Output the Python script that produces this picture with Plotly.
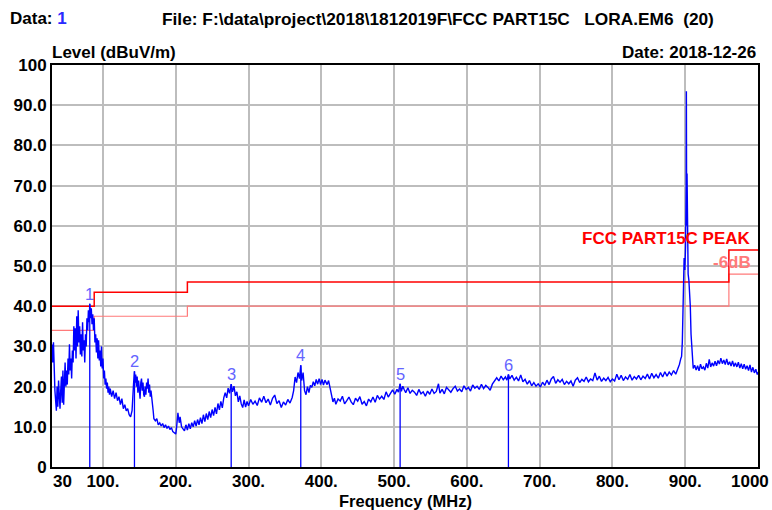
import plotly.graph_objects as go

# ---------------------------------------------------------------------------
# Radiated emission sweep, 30 MHz - 1 GHz (peak detector), level in dBuV/m
# ---------------------------------------------------------------------------
freq_mhz = [
    30, 31, 32, 33, 34, 35, 36, 37, 38, 39, 40, 41, 42, 43, 44, 45, 46, 47, 48, 49,
    50, 51, 52, 53, 54, 55, 56, 57, 58, 59, 60, 61, 62, 63, 64, 65, 66, 67, 68, 69,
    70, 71, 72, 73, 74, 75, 76, 77, 78, 79, 80, 81, 81.9, 83, 84, 85, 86, 87, 88, 89,
    90, 91, 92, 93, 94, 95, 96, 97, 98, 99, 100, 101, 102, 103, 104, 105, 106, 107, 108, 109,
    110, 112, 114, 116, 118, 120, 122, 124, 126, 128, 130, 132, 134, 136, 138, 140, 141, 142, 143.3, 144,
    145, 146, 147, 148, 149, 150, 151, 152, 153, 154, 155, 156, 157, 158, 159, 160, 161, 162, 163, 164,
    165, 166, 167, 168, 169, 170, 172, 174, 176, 178, 180, 182, 184, 186, 188, 190, 192, 194, 196, 198,
    200, 201, 202, 203, 204, 205, 206, 208, 210, 212, 214, 216, 218, 220, 222, 224, 226, 228, 230, 232,
    234, 236, 238, 240, 242, 244, 246, 248, 250, 252, 254, 256, 258, 260, 262, 264, 266, 268, 270, 272,
    274, 276.2, 278, 280, 282, 284, 286, 288, 290, 292, 294, 296, 298, 300, 303, 306, 309, 312, 315, 318,
    321, 324, 327, 330, 333, 336, 339, 342, 345, 348, 351, 354, 357, 360, 362, 364, 366, 368, 370, 371.8,
    373, 375, 377, 379, 381, 383, 385, 387, 389, 391, 393, 395, 397, 399, 401, 403, 405, 408, 410, 412,
    414, 416, 418, 420, 423, 426, 429, 432, 435, 438, 441, 444, 447, 450, 453, 456, 459, 462, 465, 468,
    471, 474, 477, 480, 483, 486, 489, 492, 495, 498, 501, 504, 506, 508.3, 510, 512, 514, 516, 519, 522,
    525, 528, 531, 534, 537, 540, 543, 546, 549, 552, 555, 558, 561, 563, 566, 569, 572, 575, 578, 581,
    584, 587, 590, 593, 596, 599, 602, 605, 608, 611, 614, 617, 620, 623, 626, 629, 632, 635, 638, 641,
    644, 647, 650, 653, 655, 657.1, 659, 662, 665, 668, 671, 674, 677, 680, 683, 686, 689, 692, 695, 698,
    701, 704, 707, 710, 713, 716, 719, 722, 725, 728, 731, 734, 737, 740, 743, 746, 749, 752, 755, 758,
    761, 764, 767, 770, 773, 776, 779, 782, 785, 788, 791, 794, 797, 800, 803, 806, 809, 812, 815, 818,
    821, 824, 827, 830, 833, 836, 839, 842, 845, 848, 851, 854, 857, 860, 863, 866, 869, 872, 875, 878,
    881, 884, 887, 890, 892, 894, 895, 896, 897, 897.8, 898.5, 899.5, 900.5, 901.3, 901.6, 902.0, 902.5, 903, 904, 905,
    906, 907, 908, 909, 910, 911, 913, 915, 917, 919, 921, 923, 925, 927, 929, 931, 933, 935, 937, 939,
    941, 943, 945, 947, 949, 951, 953, 955, 957, 959, 961, 963, 965, 967, 969, 971, 973, 975, 977, 979,
    981, 983, 985, 987, 989, 991, 993, 995, 997, 999, 1000,
]
level_dbuv = [
    30.5, 26, 31, 22, 19, 16.5, 14, 20, 15, 21.5, 17, 14.5, 19, 22.5, 16, 24, 15.5, 21, 26, 20,
    24, 20.5, 27, 23, 30.5, 24, 27, 22, 29, 26, 35, 29, 34.5, 27, 37.5, 30, 39, 31, 35, 28,
    33, 27.5, 36, 29, 31.5, 26, 33, 30, 37, 34, 39, 36, 40.6, 37, 39.5, 35.5, 38, 34, 37, 31,
    33, 28.5, 32, 27, 31.5, 26.5, 29, 25, 30, 24.5, 27, 22, 24, 20.5, 22, 19.5, 21, 18.5, 20, 18,
    19.5, 17.5, 19, 17, 18.5, 16.5, 17.5, 15.5, 17, 14.5, 15.5, 14, 14.5, 13, 12.5, 14, 19, 20.5, 23.8, 21,
    23, 20, 22.5, 18.5, 21.5, 18, 17, 21, 22, 19, 21, 18, 17.5, 20, 18, 21, 19.5, 22, 18.5, 20.5,
    17.5, 19, 16.5, 15, 14, 12, 11.5, 12, 10.5, 11, 10.2, 10.8, 9.8, 10.5, 9.6, 10.2, 9.3, 9.8, 8.8, 8.5,
    8.2, 9.5, 11.5, 13.5, 12, 11, 12.5, 10, 9.5, 9, 10.5, 9.2, 10.8, 9.5, 11, 10, 11.5, 10.2, 11.8, 10.5,
    12.3, 10.8, 13, 11.3, 13.3, 11.8, 13.8, 12.3, 14.3, 12.8, 14.8, 13.2, 15.8, 14.2, 16.3, 14.7, 17.2, 18.5, 17.2, 19.6,
    18.3, 20.6, 18.7, 20.1, 17.7, 18.7, 16.2, 17.7, 15.7, 14.8, 16.7, 14.9, 16.3, 15.2, 16.8, 15.6, 16.4, 15.3, 17.2, 16.1,
    17.6, 16, 16.9, 15.4, 17.1, 17.9, 15.8, 16.5, 14.8, 16.2, 15.4, 16.8, 15.9, 17.3, 19, 22.4, 21, 23.5, 22, 25.3,
    21.5, 23.5, 19, 18, 20, 18.5, 20.3, 19.8, 21.2, 20.2, 21.8, 20.6, 22, 20.5, 21.8, 20.4, 21.6, 20.5, 21.5, 19.8,
    18, 16.2, 17.1, 15.6, 16.9, 16.4, 17.6, 15.7, 16.5, 17.4, 16.2, 15.5, 17.1, 16.4, 17.5, 15.6, 16.3, 15.2, 16.9, 16.2,
    17.4, 16.1, 17.8, 16.9, 17.6, 16.8, 18.7, 17.4, 18.3, 19.2, 18.1, 19.3, 18.6, 20.7, 18.8, 20.1, 19.2, 18.5, 19.7, 18.3,
    19.1, 18.6, 17.8, 19.3, 18.2, 18.7, 17.6, 18.9, 18.1, 19.4, 18.3, 18.8, 20.7, 18.4, 19.3, 18.2, 19.8, 19.1, 18.6, 19.5,
    20.1, 18.9, 19.4, 18.7, 20.2, 19.3, 19.8, 18.9, 20.4, 19.6, 20.1, 19.3, 20.6, 19.5, 20.3, 19.8, 19.1, 20.6, 21.3, 22.2,
    21.4, 22.6, 21.7, 22.4, 21.6, 23, 21.9, 22.8, 21.6, 22.3, 21.4, 22.9, 21.2, 21.8, 20.6, 21.5, 20.2, 21, 20.1, 20.7,
    19.9, 21.1, 20.3, 21.6, 20.5, 21.9, 22.5, 20.8, 21.7, 21.1, 21.8, 20.5, 21.3, 20.7, 21.4, 20.1, 21.6, 22.2, 21, 21.8,
    21.3, 22.4, 21.2, 21.9, 21.5, 23.4, 21.6, 22.6, 21.3, 22.1, 21.5, 22.3, 21.2, 21.9, 21.4, 23.1, 21.7, 22.8, 21.5, 22.4,
    21.8, 23, 21.6, 22.5, 21.9, 22.8, 21.7, 22.6, 22, 23.1, 21.9, 23.3, 22.2, 23, 22.1, 23.5, 22.4, 23.7, 22.6, 23.6,
    22.9, 24, 23.1, 24.4, 25.5, 27, 27.5, 31, 38, 48, 52, 49, 55, 70, 93.5, 60, 73, 54, 48, 46.5,
    44, 40, 33, 30, 27, 24.5, 25.3, 24.1, 25.2, 23.9, 25.6, 24.4, 24.9, 24.1, 25.8, 24.6, 26.8, 24.9, 25.9, 25.1,
    26.3, 25.2, 26.5, 25.6, 27.1, 25.7, 26.6, 25.5, 26.9, 25.4, 26.2, 25.1, 26.4, 25, 25.9, 24.9, 26.1, 24.6, 25.7, 24.4,
    25.6, 24.3, 25.2, 24, 25.4, 23.6, 24.8, 23.4, 24.3, 23, 23.6,
]

# FCC Part 15C peak limit and the -6 dB margin line
limit_freq = [30, 88, 88, 216, 216, 960, 960, 1000]
limit_peak = [40, 40, 43.5, 43.5, 46, 46, 54, 54]
limit_margin = [34, 34, 37.5, 37.5, 40, 40, 48, 48]

# Marked peaks
marker_no = ["1", "2", "3", "4", "5", "6"]
marker_freq = [81.9, 143.3, 276.2, 371.8, 508.3, 657.1]
marker_level = [40.6, 23.8, 20.6, 25.3, 20.7, 23.0]

# Axis ticks
x_tick_vals = [30, 100, 200, 300, 400, 500, 600, 700, 800, 900, 1000]
x_tick_text = ["30", "100.", "200.", "300.", "400.", "500.", "600.", "700.", "800.", "900.", "1000"]
y_tick_vals = [0, 10, 20, 30, 40, 50, 60, 70, 80, 90, 100]
y_tick_text = ["0", "10.0", "20.0", "30.0", "40.0", "50.0", "60.0", "70.0", "80.0", "90.0", "100"]

W, H = 772, 510
ML, MR, MT, MB = 52, 14, 65, 43
PW, PH = W - ML - MR, H - MT - MB


def paper_x(px):
    return (px - ML) / PW


def paper_y(py):
    return (H - MB - py) / PH


FONT = "Liberation Sans, Arial, sans-serif"
BLUE = "#0000ff"
RED = "#ff0000"
PINK = "#ff7a7a"

fig = go.Figure()

# limit lines
fig.add_trace(go.Scatter(x=limit_freq, y=limit_margin, mode="lines",
                         line=dict(color=PINK, width=1.2), hoverinfo="skip"))
fig.add_trace(go.Scatter(x=limit_freq, y=limit_peak, mode="lines",
                         line=dict(color=RED, width=1.5), hoverinfo="skip"))

# marker drop lines
for f, lv in zip(marker_freq, marker_level):
    fig.add_trace(go.Scatter(x=[f, f], y=[0, lv], mode="lines",
                             line=dict(color=BLUE, width=1.3), hoverinfo="skip"))

# spectrum
fig.add_trace(go.Scatter(x=freq_mhz, y=level_dbuv, mode="lines",
                         line=dict(color=BLUE, width=1.4)))

# marker numbers
for n, f, lv in zip(marker_no, marker_freq, marker_level):
    fig.add_annotation(x=f, y=lv, text=n, showarrow=False, yshift=10,
                       font=dict(family=FONT, size=16.5, color="#6464ff"))

bold = dict(family=FONT, size=17, color="black", weight="bold")


def label(text, px, py, xanchor="left", color="black", size=17):
    fig.add_annotation(xref="paper", yref="paper", x=paper_x(px), y=paper_y(py),
                       text=text, showarrow=False, xanchor=xanchor, yanchor="middle",
                       font=dict(family=FONT, size=size, color=color, weight="bold"))


# the outer x labels sit inside the plot corners, so they are placed by hand
x_labels = [""] + x_tick_text[1:-1] + [""]
label(x_tick_text[0], 51, 481)
label(x_tick_text[-1], 771, 481, xanchor="right")

NBSP = "\u00a0"
label("Data: <span style='color:#2a2aff'>1</span>", 8, 19)
label("File: F:\\data\\project\\2018\\1812019F\\FCC PART15C" + NBSP * 3 + "LORA.EM6" + NBSP * 2 + "(20)",
      160, 19, size=17.3)
label("Level (dBuV/m)", 50, 53)
label("Date: 2018-12-26", 758, 52, xanchor="right")
label("Frequency (MHz)", 405, 501, xanchor="center", size=16.5)
label("FCC PART15C PEAK", 753, 238, xanchor="right", color=RED)
label("-6dB", 753, 262, xanchor="right", color=PINK)

fig.update_layout(
    width=W, height=H,
    margin=dict(l=ML, r=MR, t=MT, b=MB, pad=0),
    paper_bgcolor="white", plot_bgcolor="white",
    showlegend=False,
    font=dict(family=FONT),
)
fig.update_xaxes(
    range=[30, 1000], tickmode="array", tickvals=x_tick_vals, ticktext=x_labels,
    tickfont=bold, showgrid=True, gridcolor="#bdbdbd", gridwidth=1.5,
    showline=True, linecolor="black", linewidth=2, mirror=True,
    zeroline=False, ticks="", automargin=False, ticklabelstandoff=-2,
)
fig.update_yaxes(
    range=[0, 100], tickmode="array", tickvals=y_tick_vals, ticktext=y_tick_text,
    tickfont=bold, showgrid=True, gridcolor="#bdbdbd", gridwidth=1.5,
    showline=True, linecolor="black", linewidth=2, mirror=True,
    zeroline=False, ticks="", automargin=False, ticklabelstandoff=0,
)

fig.write_html("out.html")
